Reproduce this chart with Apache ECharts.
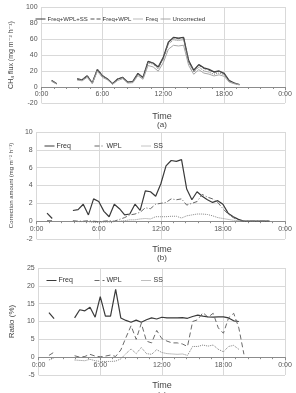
<!DOCTYPE html>
<html>
<head>
<meta charset="utf-8">
<script src="https://cdn.jsdelivr.net/npm/echarts@6/dist/echarts.min.js"></script>
<style>
  html, body { margin: 0; padding: 0; background: #fff; }
  #chart { width: 296px; height: 393px; }
</style>
</head>
<body>
<div id="chart"></div>
<script>
// half-hour time stamps (hours)
const times = [1, 1.5, 2, 2.5, 3, 3.5, 4, 4.5, 5, 5.5, 6, 6.5, 7, 7.5, 8, 8.5, 9, 9.5, 10, 10.5,
  11, 11.5, 12, 12.5, 13, 13.5, 14, 14.5, 15, 15.5, 16, 16.5, 17, 17.5, 18, 18.5, 19, 19.5,
  20, 20.5, 21, 21.5, 22, 22.5];
const n = null;

// (a) CH4 flux
const fluxAll = [8, 4, n, n, n, 10, 9, 14, 5, 22, 14, 10, 4, 10, 12, 6, 7, 17, 12, 32, 30, 25, 37, 56,
  62, 61, 62, 33, 21, 28, 24, 22, 19, 20, 17, 8, 5, 3, n, n, n, n, n, n];
const fluxFreqWpl = [8, 4, n, n, n, 10, 9, 14, 5, 22.2, 14.2, 10.1, 4.1, 10, 12, 6, 6.9, 16.9, 11.8, 31.7,
  29.8, 24.5, 36.5, 55.5, 61.4, 60.4, 61.6, 32.4, 20.3, 27.2, 23.2, 21.2, 18.4, 19.6, 16.7, 7.8, 4.9, 3, n, n, n, n, n, n];
const fluxFreq = [7.9, 3.9, n, n, n, 9.9, 9, 14, 4.9, 22.2, 14.2, 10.1, 4, 10, 11.8, 5.6, 6.2, 16.1, 10.8, 30.2,
  28.4, 22.6, 34.5, 53.4, 58.9, 58, 59.1, 30.6, 18.3, 25, 20.2, 18.5, 15.9, 17.5, 15.3, 7, 4.5, 2.9, n, n, n, n, n, n];
const fluxUncorr = [7, 3.6, n, n, n, 8.7, 7.7, 12.1, 4.2, 19.7, 12, 9, 3.5, 8.1, 10.4, 4.9, 5.4, 14.2, 9.6, 26.8,
  25.1, 19.8, 30.3, 47.2, 52.1, 51.3, 52.2, 27, 15.9, 21.7, 17.4, 16.1, 13.8, 15.2, 13.4, 6.1, 4, 2.7, n, n, n, n, n, n];

// (b) correction amount
const corrFreq = [0.9, 0.3, n, n, n, 1.2, 1.3, 1.9, 0.7, 2.5, 2.2, 1.1, 0.5, 1.9, 1.4, 0.7, 0.8, 1.9, 1.2, 3.4,
  3.3, 2.8, 4.2, 6.2, 6.8, 6.7, 6.9, 3.6, 2.4, 3.3, 2.8, 2.4, 2.1, 2.3, 1.9, 0.9, 0.5, 0.2, 0, 0, 0, 0, 0, 0];
const corrWpl = [0.05, 0.05, n, n, n, 0.05, 0, 0, 0.05, 0, -0.05, 0, 0.05, 0, 0.2, 0.4, 0.7, 0.8, 1.0, 1.5,
  1.4, 1.9, 2.0, 2.1, 2.5, 2.4, 2.5, 1.8, 2.0, 2.2, 3.0, 2.7, 2.5, 2.1, 1.4, 0.8, 0.4, 0.1, 0, 0, 0, 0, 0, 0];
const corrSs = [0.05, 0, n, n, n, 0, -0.05, -0.05, -0.05, -0.15, -0.15, -0.1, -0.1, -0.05, 0, 0.05, 0.15, 0.15, 0.25, 0.3,
  0.25, 0.5, 0.5, 0.5, 0.55, 0.55, 0.35, 0.6, 0.7, 0.8, 0.8, 0.75, 0.6, 0.4, 0.3, 0.2, 0.1, 0.05, 0, 0, 0, 0, 0, 0];

// (c) ratio (%)
const ratioFreq = [12.5, 10.8, n, n, n, 11, 13.3, 13, 14, 11.2, 17, 11.5, 11.5, 19, 11, 10.3, 9.8, 10.4, 9.8, 10.5,
  11, 10.7, 11.2, 11, 11, 11, 11.1, 10.9, 11.4, 11.8, 11.5, 11.3, 11.2, 11.3, 11.3, 11, 10.2, 10, n, n, n, n, n, n];
const ratioWpl = [0.5, 1.4, n, n, n, 0.4, 0, 0.2, 0.8, 0.3, 0.1, 0.3, 0.6, 0.2, 2.0, 5.5, 8.8, 5.0, 9.5, 4.5,
  4.0, 7.5, 5.2, 4.5, 4.0, 4.0, 3.7, 3.0, 10.0, 10.5, 12.5, 11.2, 12.3, 8.2, 6.7, 11, 12.3, 8.2, 0.8, n, n, n, n, n];
const ratioSs = [-0.8, -0.2, n, n, n, -0.8, -0.9, -1.0, -0.6, -1.0, -1.2, -1.2, -1.2, -1.1, -0.5, 1.0, 2.3, 1.0, 2.7, 1.0,
  0.8, 2.1, 1.3, 1.0, 0.9, 0.8, 0.9, 0.5, 3.0, 3.0, 3.4, 3.1, 3.4, 2.2, 1.5, 3.0, 3.3, 2.2, n, n, n, n, n, n];

const font = "Liberation Sans, DejaVu Sans, sans-serif";
const pair = (arr) => times.map((t, i) => [t, arr[i]]);

const grids = [
  { left: 26, right: 11, top: 7, height: 96 },
  { left: 26, right: 11, top: 132, height: 107 },
  { left: 26, right: 11, top: 268, height: 107 }
];
const yRanges = [[-20, 100, 20], [-2, 10, 2], [-5, 25, 5]];

// x axis sits on y = 0 (labels included), so shift it up from the grid bottom
function xAxis(gi) {
  const [min, max] = yRanges[gi];
  return {
    type: "value", gridIndex: gi, min: 0, max: 24, interval: 6,
    position: "bottom", offset: -grids[gi].height * (0 - min) / (max - min),
    axisLine: { onZero: false, lineStyle: { color: "#8c8c8c", width: 1 } },
    axisTick: { show: true, length: 3, lineStyle: { color: "#8c8c8c" } },
    minorTick: { show: true, splitNumber: 5, length: 2, lineStyle: { color: "#8c8c8c" } },
    axisLabel: { fontSize: 7, color: "#555", fontFamily: font, margin: 4, formatter: (v) => v % 24 + ":00" },
    splitLine: { show: true, lineStyle: { color: "#d9d9d9", width: 1 } }
  };
}
function yAxis(gi, name, nameSize, nameGap) {
  const [min, max, interval] = yRanges[gi];
  return {
    type: "value", gridIndex: gi, min, max, interval,
    name, nameLocation: "middle", nameGap, nameRotate: 90,
    nameTextStyle: { fontSize: nameSize, color: "#444", fontFamily: font },
    axisLine: { show: false }, axisTick: { show: false },
    axisLabel: { fontSize: 7, color: "#555", fontFamily: font, margin: 4 },
    splitLine: { show: true, lineStyle: { color: "#d9d9d9", width: 1 } }
  };
}
function line(name, idx, data, color, type, width) {
  return {
    name, type: "line", xAxisIndex: idx, yAxisIndex: idx, data: pair(data),
    symbol: "none", connectNulls: false, animation: false,
    lineStyle: { color, type, width }, itemStyle: { color }
  };
}
function legend(left, top, name, size) {
  return {
    top, left, itemWidth: 10, itemHeight: 6,
    data: [name],
    itemStyle: { opacity: 0 },
    lineStyle: { width: 1 },
    textStyle: { fontSize: size, color: "#333", fontFamily: font, padding: [0, 0, 0, -3] },
    selectedMode: false
  };
}
function caption(text, top, size) {
  return { text, left: 157, top, textAlign: "center",
    textStyle: { fontSize: size, fontWeight: "normal", color: "#444", fontFamily: font } };
}

const chart = echarts.init(document.getElementById("chart"), null, { renderer: "canvas" });
chart.setOption({
  animation: false,
  title: [
    caption("Time", 107, 9), caption("(a)", 116, 8),
    caption("Time", 240, 9), caption("(b)", 249, 8),
    caption("Time", 376, 9), caption("(c)", 386, 8)
  ],
  legend: [
    legend(30, 11, "Freq+WPL+SS", 6), legend(85, 11, "Freq+WPL", 6), legend(128, 11, "Freq", 6), legend(155, 11, "Uncorrected", 6),
    legend(39, 137.5, "Freq ", 7), legend(89, 137.5, "WPL ", 7), legend(136, 137.5, "SS ", 7),
    legend(41, 272, "Freq  ", 7), legend(89, 272, "WPL  ", 7), legend(136, 272, "SS  ", 7)
  ],
  grid: grids,
  xAxis: [xAxis(0), xAxis(1), xAxis(2)],
  yAxis: [
    yAxis(0, "CH\u2084 flux (mg m\u207B\u00B2 h\u207B\u00B9)", 7, 15),
    yAxis(1, "Correction amount (mg m\u207B\u00B2 h\u207B\u00B9)", 6, 14),
    yAxis(2, "Ratio (%)", 8, 14)
  ],
  series: [
    line("Freq+WPL+SS", 0, fluxAll, "#3a3a3a", "solid", 1.3),
    line("Freq+WPL", 0, fluxFreqWpl, "#555", [4, 2], 1),
    line("Freq", 0, fluxFreq, "#777", [1, 1], 1),
    line("Uncorrected", 0, fluxUncorr, "#a6a6a6", "solid", 1),
    line("Freq ", 1, corrFreq, "#3a3a3a", "solid", 1.2),
    line("WPL ", 1, corrWpl, "#666", [5, 2, 1, 2], 1),
    line("SS ", 1, corrSs, "#888", [1, 1], 1),
    line("Freq  ", 2, ratioFreq, "#3a3a3a", "solid", 1.2),
    line("WPL  ", 2, ratioWpl, "#6a6a6a", [5, 3], 1),
    line("SS  ", 2, ratioSs, "#7f7f7f", [1, 1], 1)
  ]
});
</script>
</body>
</html>
